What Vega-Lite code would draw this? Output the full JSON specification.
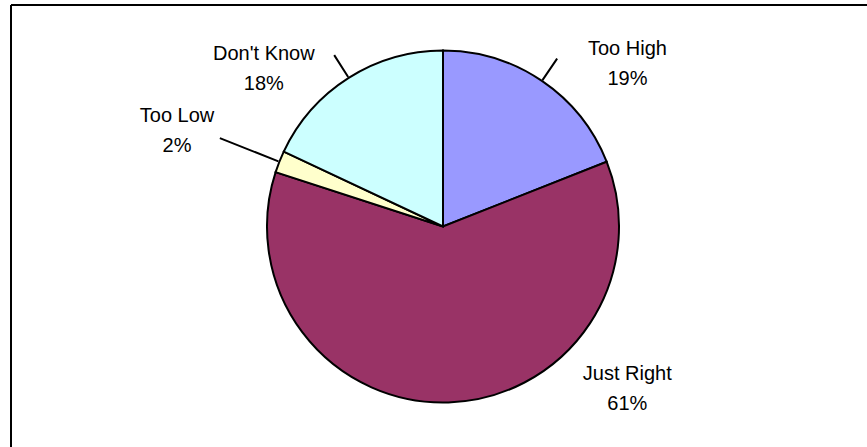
{
  "$schema": "https://vega.github.io/schema/vega-lite/v6.json",
  "width": 864,
  "height": 443,
  "autosize": "none",
  "padding": {"left": 11, "top": 5, "right": 0, "bottom": 0},
  "background": "white",
  "config": {"view": {"stroke": null}},
  "layer": [
    {
      "data": {"values": [{"frame": "top"}]},
      "mark": {"type": "rule", "stroke": "black", "strokeWidth": 2},
      "encoding": {"y": {"value": 0}}
    },
    {
      "data": {"values": [{"frame": "left"}]},
      "mark": {"type": "rule", "stroke": "black", "strokeWidth": 2},
      "encoding": {"x": {"value": 0}}
    },
    {
      "data": {"values": [
        {"cat": "Too High", "value": 19, "order": 1, "label": "Too High\n19%"},
        {"cat": "Just Right", "value": 61, "order": 2, "label": "Just Right\n61%"},
        {"cat": "Too Low", "value": 2, "order": 3, "label": "Too Low\n2%"},
        {"cat": "Don't Know", "value": 18, "order": 4, "label": "Don't Know\n18%"}
      ]},
      "encoding": {
        "theta": {"field": "value", "type": "quantitative", "stack": true},
        "order": {"field": "order", "type": "quantitative"}
      },
      "layer": [
        {
          "mark": {"type": "arc", "outerRadius": 176, "stroke": "black", "strokeWidth": 2},
          "encoding": {
            "color": {
              "field": "cat", "type": "nominal",
              "scale": {"domain": ["Too High", "Just Right", "Too Low", "Don't Know"], "range": ["#9999FF", "#993366", "#FFFFCC", "#CCFFFF"]},
              "legend": null
            }
          }
        },
        {
          "mark": {"type": "arc", "innerRadius": 177, "outerRadius": 203, "padAngle": 3.14159, "strokeWidth": 2, "fill": "white", "fillOpacity": 0},
          "encoding": {
            "stroke": {"condition": {"test": "datum.order === 1 || datum.order === 4", "value": "black"}, "value": "transparent"}
          }
        },
        {
          "mark": {"type": "arc", "innerRadius": 177, "outerRadius": 240, "padAngle": 3.14159, "strokeWidth": 2, "fill": "white", "fillOpacity": 0},
          "encoding": {
            "stroke": {"condition": {"test": "datum.order === 3", "value": "black"}, "value": "transparent"}
          }
        },
        {
          "mark": {"type": "text", "radius": 200, "dx": 72, "dy": -12, "font": "Liberation Sans", "fontSize": 20, "lineBreak": "\n", "lineHeight": 30, "baseline": "middle", "align": "center", "color": "black"},
          "encoding": {"text": {"condition": {"test": "datum.order === 1", "field": "label", "type": "nominal"}, "value": ""}}
        },
        {
          "mark": {"type": "text", "radius": 200, "dx": 178, "dy": -52, "font": "Liberation Sans", "fontSize": 20, "lineBreak": "\n", "lineHeight": 30, "baseline": "middle", "align": "center", "color": "black"},
          "encoding": {"text": {"condition": {"test": "datum.order === 2", "field": "label", "type": "nominal"}, "value": ""}}
        },
        {
          "mark": {"type": "text", "radius": 200, "dx": -80, "dy": -37, "font": "Liberation Sans", "fontSize": 20, "lineBreak": "\n", "lineHeight": 30, "baseline": "middle", "align": "center", "color": "black"},
          "encoding": {"text": {"condition": {"test": "datum.order === 3", "field": "label", "type": "nominal"}, "value": ""}}
        },
        {
          "mark": {"type": "text", "radius": 200, "dx": -72, "dy": -4, "font": "Liberation Sans", "fontSize": 20, "lineBreak": "\n", "lineHeight": 30, "baseline": "middle", "align": "center", "color": "black"},
          "encoding": {"text": {"condition": {"test": "datum.order === 4", "field": "label", "type": "nominal"}, "value": ""}}
        }
      ]
    }
  ]
}
